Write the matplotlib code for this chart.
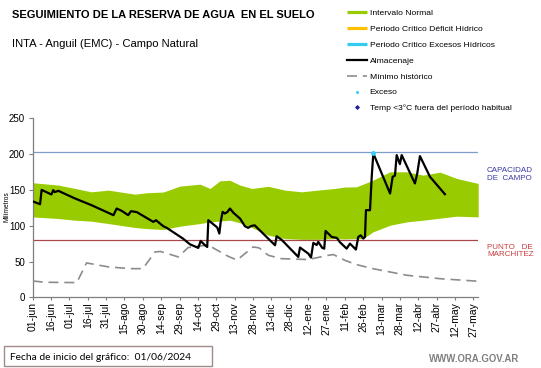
import matplotlib
matplotlib.use("Agg")
import matplotlib.pyplot as plt
from matplotlib.lines import Line2D
from matplotlib.patches import Rectangle

plt.rcParams["font.family"] = ["Liberation Sans", "DejaVu Sans"]

# ---- datos (dias desde 01/06/2024) ----
band_day = [0, 21, 34.6, 48, 61.8, 83.6, 93, 106.7, 120.3, 136.7, 144.9, 153, 161, 169.4,
            179, 192.5, 206, 219.8, 233, 247, 255, 264.5, 270, 278, 292, 305.6, 319, 332.8,
            346.4, 364]
band_hi = [160, 156.7, 152, 147.3, 149.7, 144, 146, 147, 155.3, 158, 152, 162.7, 163.5, 156.7,
           152, 155, 149.7, 147.3, 149.7, 152, 154, 154.3, 158, 163.6, 175.3, 175.3, 170.6, 174.8,
           166, 159]
band_lo = [112.3, 110, 107.7, 106.3, 103, 97.5, 96, 94.7, 99.3, 103, 105.3, 106.5, 107.7, 104,
           97.5, 86.7, 82, 81, 81, 82, 81.5, 82, 82, 91.3, 100.7, 105.3, 107.7, 110.5,
           113.3, 112.3]

alm_day = [0, 6, 7.3, 15.3, 16.8, 18, 21, 34.6, 48, 66, 68.6, 73, 78, 80.3, 85,
           98.6, 100.7, 106.7, 109.5, 122.8, 128.5, 135.3, 137.2, 140.8, 142.6, 143.5,
           150.8, 152.5, 153.6, 155.2, 157, 159, 161.2, 164, 169.4, 173.4, 176, 178.7,
           181.4, 198, 199.3, 203.4, 217, 218.4, 225.2, 227.4, 229.3, 232, 233.3, 236.6,
           238.2, 239.3, 244.3, 248.4, 249.8, 251, 256.5, 259.2, 264.1, 266, 268, 270.1,
           271.5, 272.3, 275.6, 277, 278.3, 292, 294.1, 296, 297.4, 300, 301.5, 312.3,
           314.2, 316.4, 324.6, 336.8]
alm_val = [134, 130, 150, 143.6, 149.7, 147, 148.7, 138, 128.7, 114.7, 124, 120.5, 114.7, 120.3, 119,
           105.3, 107.7, 99.3, 97, 82, 74, 69, 78.7, 72.7, 70.3, 107.7,
           97.5, 89, 105.3, 119.3, 117, 119, 124, 118, 110, 99.3, 97, 99.7,
           100.5, 72.7, 85.3, 80.3, 56.4, 69.5, 61, 55.5, 76, 73, 77.4, 69,
           68, 92.7, 84.3, 83, 80, 77, 68, 75, 66.7, 84.3, 86.6, 82,
           84.3, 121.7, 121.7, 168.3, 201, 145, 168.3, 170, 198.6, 186, 198.6, 159,
           173, 197.2, 168.3, 144]

min_day = [0, 10, 36, 44, 62, 80, 90, 100, 104.5, 119, 127, 134, 143.5, 160, 167, 180,
           185, 192.5, 203, 225, 241.6, 245.7, 255, 264.5, 278, 305.6, 332.8, 364]
min_val = [22.8, 21, 20.5, 48, 42.4, 40, 40, 63.4, 64, 56.4, 69.5, 71.3, 72.7, 57, 52, 70.3,
           69, 58.7, 54, 52.7, 58.7, 59.7, 51.7, 45.7, 40, 30.8, 26, 22.4]

exceso_day = [278]
exceso_val = [202]

cap_campo = 203
pto_marchitez = 80

tick_days = list(range(0, 361, 15))
tick_labels = ["01-jun", "16-jun", "01-jul", "16-jul", "31-jul", "15-ago", "30-ago", "14-sep",
               "29-sep", "14-oct", "29-oct", "13-nov", "28-nov", "13-dic", "28-dic", "12-ene",
               "27-ene", "11-feb", "26-feb", "13-mar", "28-mar", "12-abr", "27-abr", "12-may",
               "27-may"]

W, H = 541, 368
GREEN = "#99CC00"
fig = plt.figure(figsize=(W / 100, H / 100), dpi=100)
fig.patch.set_facecolor("white")

ax = fig.add_axes([32.7 / W, 1 - 297.3 / H, (478.2 - 32.7) / W, (297.3 - 118.3) / H])
ax.set_xlim(0, 364)
ax.set_ylim(0, 250)

ax.fill_between(band_day, band_lo, band_hi, color=GREEN, lw=0, zorder=1)
ax.axhline(cap_campo, color="#7f9ccc", lw=0.9, zorder=2)
ax.axhline(pto_marchitez, color="#a84848", lw=0.9, zorder=2)
ax.plot(min_day, min_val, color="#8c8c8c", lw=1.2, dashes=(6, 3.5), zorder=3)
ax.plot(alm_day, alm_val, color="black", lw=1.6, zorder=4)
ax.scatter(exceso_day, exceso_val, s=6, color="#33CCFF", zorder=5)

for s in ("top", "right"):
    ax.spines[s].set_visible(False)
for s in ("left", "bottom"):
    ax.spines[s].set_color("#7f7f7f")
    ax.spines[s].set_linewidth(0.9)

ax.set_yticks(range(0, 251, 50))
ax.set_xticks(tick_days)
ax.set_xticklabels(tick_labels, rotation=90)
ax.tick_params(axis="y", length=3, width=0.8, color="#7f7f7f", labelsize=7, pad=2.5)
ax.tick_params(axis="x", length=2.5, width=0.8, color="#7f7f7f", labelsize=7.5, pad=1)

fig.text(7 / W, 1 - 207 / H, "Milímetros", rotation=90, fontsize=4.8,
         ha="center", va="center")

# titulos
fig.text(11.7 / W, 1 - 15 / H, "SEGUIMIENTO DE LA RESERVA DE AGUA  EN EL SUELO",
         fontsize=8.0, fontweight="bold", ha="left", va="center")
fig.text(11.7 / W, 1 - 44 / H, "INTA - Anguil (EMC) - Campo Natural",
         fontsize=8.1, ha="left", va="center")

# etiquetas a la derecha
fig.text(487 / W, 1 - 174.5 / H, "CAPACIDAD\nDE  CAMPO", fontsize=5.8, color="#3a3aa8",
         ha="left", va="center", linespacing=1.05)
fig.text(487 / W, 1 - 251 / H, "PUNTO   DE\nMARCHITEZ", fontsize=5.8, color="#c83c3c",
         ha="left", va="center", linespacing=1.05)

# leyenda
handles = [
    Line2D([0], [0], color=GREEN, lw=2.3, solid_capstyle="butt", label="Intervalo Normal"),
    Line2D([0], [0], color="#FFC000", lw=2.3, solid_capstyle="butt",
           label="Periodo Crítico Déficit Hídrico"),
    Line2D([0], [0], color="#33CCEE", lw=2.3, solid_capstyle="butt",
           label="Periodo Crítico Excesos Hídricos"),
    Line2D([0], [0], color="black", lw=1.6, label="Almacenaje"),
    Line2D([0], [0], color="#8c8c8c", lw=1.2, dashes=(6, 3.5), label="Mínimo histórico"),
    Line2D([0], [0], color="none", marker="o", ms=2.2, mfc="#33CCFF", mec="none",
           label="Exceso"),
    Line2D([0], [0], color="none", marker="D", ms=2.6, mfc="#1f1f9f", mec="none",
           label="Temp <3°C fuera del período habitual"),
]
fig.legend(handles=handles, loc="upper left", bbox_to_anchor=(346.7 / W, 1 - 9.5 / H),
           frameon=False, fontsize=6.1, labelspacing=0.93, handlelength=2.4,
           handletextpad=0.3, borderpad=0, borderaxespad=0)

# pie
fig.add_artist(Rectangle((3.5 / W, 1 - 366 / H), (212 - 3.5) / W, (366 - 346) / H,
                         transform=fig.transFigure, facecolor="white",
                         edgecolor="#a08a8a", lw=1.0))
fig.text(9.5 / W, 1 - 357 / H, "Fecha de inicio del gráfico:  01/06/2024",
         fontsize=7.4, family=["Lato", "DejaVu Sans"], ha="left", va="center")
fig.text(519 / W, 1 - 358.5 / H, "WWW.ORA.GOV.AR", fontsize=6.9, fontweight="bold",
         color="#808080", ha="right", va="center")

fig.savefig("out.png", dpi=100, facecolor="white")
